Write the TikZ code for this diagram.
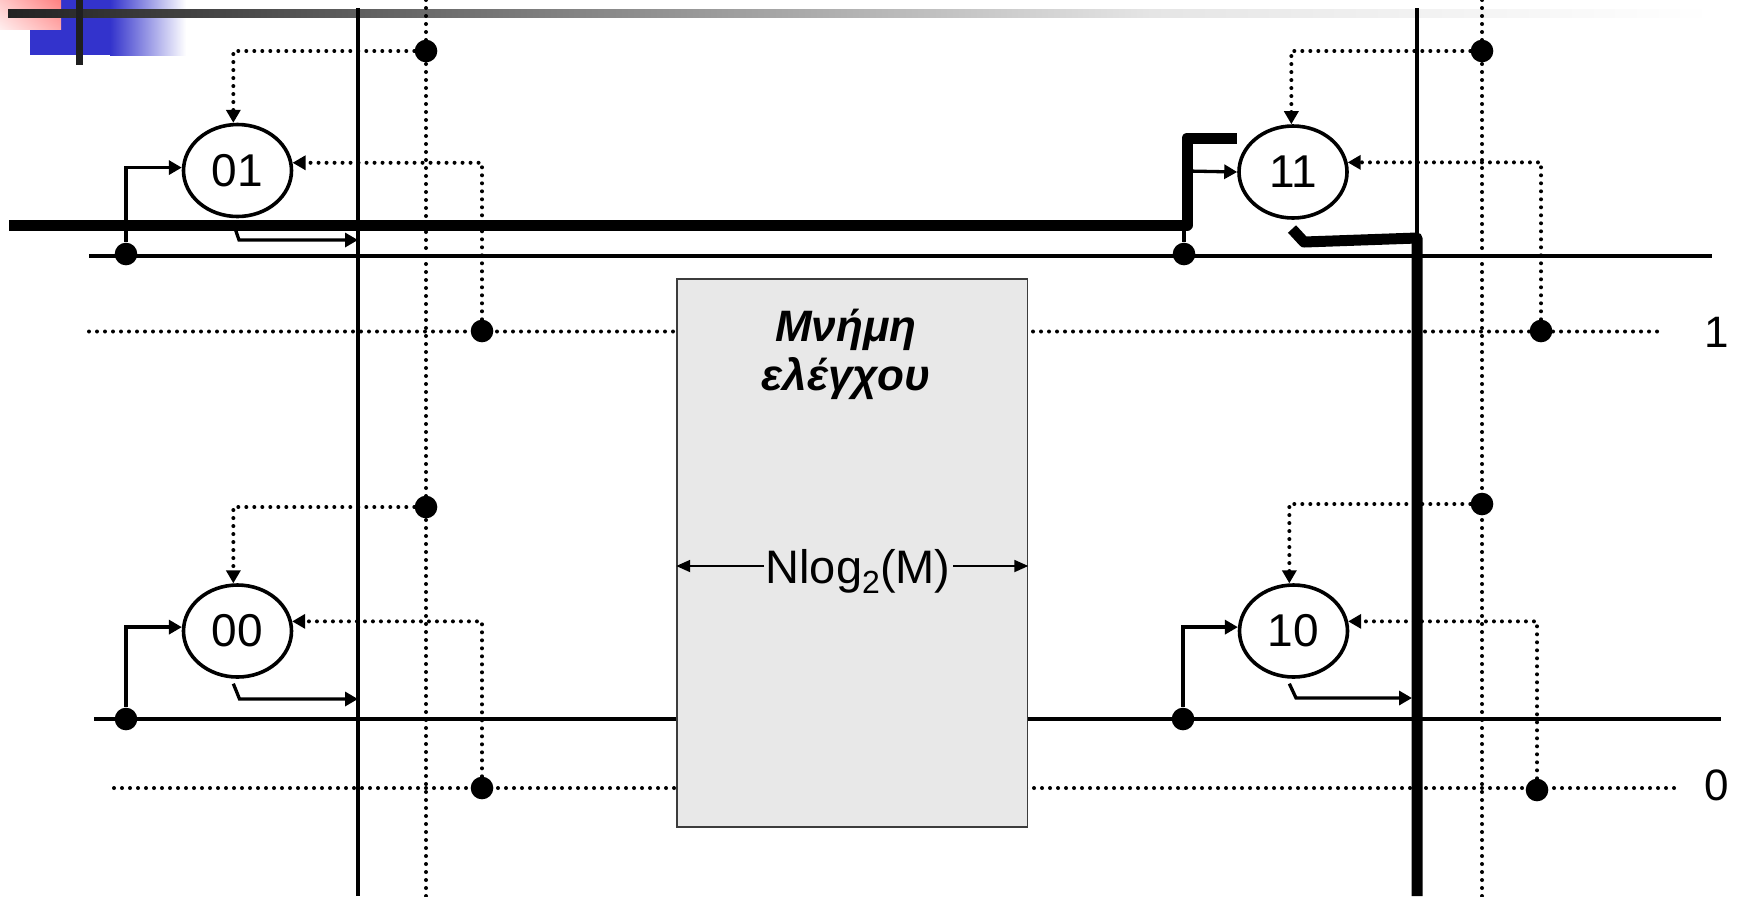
\documentclass[tikz,border=0pt]{standalone}
\usepackage{fontspec}
\setmainfont{Liberation Sans}
\usetikzlibrary{shapes.geometric,arrows.meta,calc,shadings}
\definecolor{logoblue}{RGB}{51,51,204}
\definecolor{pinkA}{RGB}{255,200,200}
\definecolor{pinkB}{RGB}{255,128,128}
\definecolor{pinkC}{RGB}{255,238,238}
\definecolor{pinkD}{RGB}{255,170,170}
\definecolor{barA}{RGB}{34,34,34}
\definecolor{barB}{RGB}{119,119,119}
\definecolor{barC}{RGB}{229,229,229}
\definecolor{boxfill}{RGB}{232,232,232}
\definecolor{boxline}{RGB}{60,60,60}
\begin{document}
\begin{tikzpicture}[x=0.5pt,y=-0.5pt,
  state/.style={ellipse,draw,line width=1.8pt,minimum width=54pt,minimum height=46pt,inner sep=0pt,font=\fontsize{23}{23}\selectfont},
  dot/.style={circle,fill,inner sep=0pt,minimum size=11.3pt},
  dotl/.style={line width=2pt,line cap=round,dash pattern=on 0pt off 4pt},
  thinl/.style={line width=1.65pt},
  vline/.style={line width=1.8pt},
  bus/.style={line width=5.5pt,line join=round},
  tip/.style={-{Triangle[length=6.5pt,width=7pt]}},
  lab/.style={font=\fontsize{22}{22}\selectfont}
]
\useasboundingbox (0,0) rectangle (1738,896);

% ---- slide decoration
\fill[logoblue] (30,0) rectangle (111,55);
\shade[left color=logoblue,right color=white] (110,0) rectangle (186,55);
\shade[upper left=pinkA,upper right=pinkB,lower left=pinkC,lower right=pinkD] (0,0) rectangle (61,29);
\shade[left color=barA,right color=barB] (8,9) rectangle (501,17);
\shade[left color=barB,right color=barC] (500,9) rectangle (1151,17);
\shade[left color=barC,right color=white] (1150,9) rectangle (1712,17);
\fill[barA!90!black] (76,0) rectangle (83,65);

% ---- coordinates
\coordinate (vLt) at (358,8);   \coordinate (vLb) at (358,896);
\coordinate (vRt) at (1417,8);  \coordinate (vRb) at (1417,896);
\coordinate (aLt) at (426,0);   \coordinate (aLb) at (426,896);
\coordinate (aRt) at (1482,0);  \coordinate (aRb) at (1482,896);
\coordinate (r1s) at (89,256);  \coordinate (r1e) at (1712,256);
\coordinate (r1ds) at (89,331.5); \coordinate (r1de) at (1660,331.5);
\coordinate (r0s) at (94,719);  \coordinate (r0e) at (1721,719);
\coordinate (r0ds) at (114,788); \coordinate (r0de) at (1675,788);

% ---- dotted lines
\draw[dotl] (aLt) -- (aLb);
\draw[dotl] (aRt) -- (aRb);
\draw[dotl] (r1ds) -- (r1de);
\draw[dotl] (r0ds) -- (r0de);

% ---- solid lines
\draw[vline] (vLt) -- (vLb);
\draw[vline] (vRt) -- (vRb);
\draw[thinl] (r1s) -- (r1e);
\draw[thinl] (r0s) -- (r0e);

% ---- memory box
\node[draw=boxline,fill=boxfill,line width=0.8pt,minimum width=175.25pt,minimum height=274pt,inner sep=0pt] (mem) at (852.25,553) {};
\node[font=\fontsize{22}{24.5}\selectfont\bfseries\itshape,align=center] (title) at (846,354) {Μνήμη\\ελέγχου};
\node[font=\fontsize{23.5}{23.5}\selectfont,anchor=base,inner sep=0pt] (nl) at (858,583) {Nlog\raisebox{-5pt}{\fontsize{16}{16}\selectfont 2}(M)};
\coordinate (al) at (764,566);
\coordinate (ar) at (953,566);
\draw[line width=0.9pt,-{Triangle[length=7pt,width=6pt]}] (al) -- (al -| mem.west);
\draw[line width=0.9pt,-{Triangle[length=7pt,width=6pt]}] (ar) -- (ar -| mem.east);

% ---- state nodes
\node[state] (n01) at (237.5,170.5) {01};
\node[state] (n11) at (1293,172) {11};
\node[state] (n00) at (237.5,631) {00};
\node[state] (n10) at (1293.5,631) {10};

% ---- junction dots
\node[dot] (t01) at (426,51) {};
\node[dot] (r01) at (482,331) {};
\node[dot] (i01) at (126,254) {};
\node[dot] (t00) at (426,507) {};
\node[dot] (r00) at (482,788) {};
\node[dot] (i00) at (126,719) {};
\node[dot] (t11) at (1482,51) {};
\node[dot] (r11) at (1541,331) {};
\node[dot] (i11) at (1184,254) {};
\node[dot] (t10) at (1482,504) {};
\node[dot] (r10) at (1537,790) {};
\node[dot] (i10) at (1183,719) {};

% ---- dotted control arrows
\draw[dotl,tip] (t01) -| (n01.95);
\draw[dotl,tip] (r01) |- (n01.8);
\draw[dotl,tip] (t00) -| (n00.95);
\draw[dotl,tip] (r00) |- (n00.10);
\draw[dotl,tip] (t11) -| (n11.92);
\draw[dotl,tip] (r11) |- (n11.10);
\draw[dotl,tip] (t10) -| (n10.95);
\draw[dotl,tip] (r10) |- (n10.10);

% ---- inputs
\draw[thinl,tip] (i01) |- (n01.177);
\draw[thinl,tip] (i00) |- (n00.176);
\draw[thinl,tip] (i10) |- (n10.176);

% ---- outputs
\coordinate (c01) at (239,240);
\coordinate (c00) at (239.5,699);
\coordinate (c10) at (1296,698);
\draw[thinl,tip] ([yshift=-2.5pt]n01.265) -- (c01) -- (c01 -| vLt);
\draw[thinl,tip] ([yshift=-2.5pt]n00.265) -- (c00) -- (c00 -| vLt);
\draw[thinl,tip] ([yshift=-2.5pt]n10.265) -- (c10) -- ($(c10 -| vRt)+(-5,0)$);

% ---- thick path (connection 01 -> 11 -> 10 column)
\coordinate (bus0) at (9,225);
\coordinate (bus1) at (1187,225);
\coordinate (bus2) at (1187,138);
\coordinate (bus3) at (1237,138);
\coordinate (b11) at (1187,171);
\draw[thinl] (i11) -- (i11 |- bus1);
\draw[bus] (bus0) -- (bus1) -- (bus2) -- (bus3);
\draw[thinl,tip] (b11) -- (n11.west);
\coordinate (o1) at (1292,229);
\coordinate (o2) at (1304,242);
\coordinate (o3) at (1417,238);
\draw[bus] (o1) -- (o2) -- (o3) -- (vRb);

% ---- row labels
\node[lab] (l1) at (1717,332) {1};
\node[lab] (l0) at (1717,785) {0};
\end{tikzpicture}
\end{document}
